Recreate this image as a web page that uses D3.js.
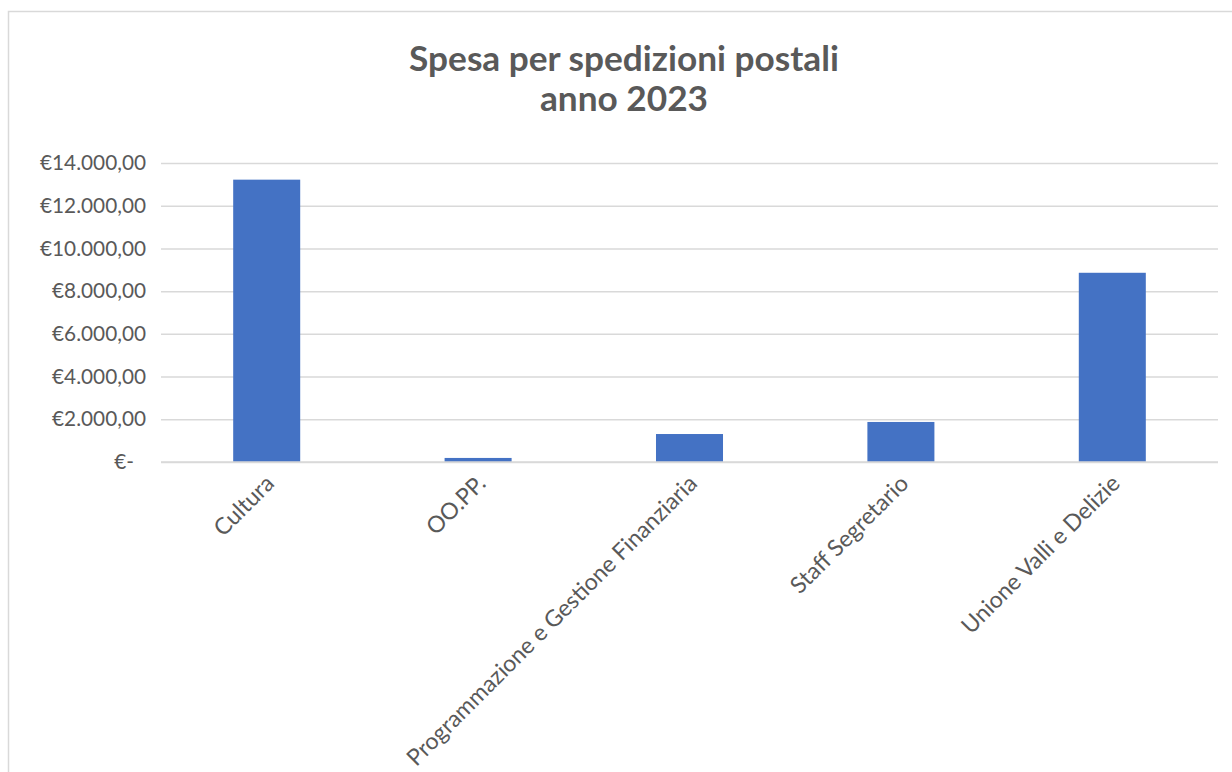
<!DOCTYPE html>
<html>
<head>
<meta charset="utf-8">
<script src="https://cdn.jsdelivr.net/npm/d3@7"></script>
<style>
  html, body { margin: 0; padding: 0; background: #fff; }
  svg { display: block; }
</style>
</head>
<body>
<svg id="chart" width="1232" height="772"></svg>
<script>
const categories = ["Cultura", "OO.PP.", "Programmazione e Gestione Finanziaria", "Staff Segretario", "Unione Valli e Delizie"];
const values = [13220, 190, 1310, 1875, 8860];
const yTicks = [0, 2000, 4000, 6000, 8000, 10000, 12000, 14000];
const titleLines = ["Spesa per spedizioni postali", "anno 2023"];

const FONT = "Lato, 'Open Sans', sans-serif";
const TEXT = "#595959";
const GRID = "#d9d9d9";
const BAR = "#4472c4";

const svg = d3.select("#chart");
const plotLeft = 161, plotRight = 1218, plotTop = 163, plotBottom = 462;

// chart border (clipped by page on right and bottom as in reference)
svg.append("rect")
  .attr("x", 8.5).attr("y", 11.5)
  .attr("width", 1300).attr("height", 900)
  .attr("fill", "#fff").attr("stroke", GRID).attr("stroke-width", 1.5);

const x = d3.scaleBand().domain(categories).range([plotLeft, plotRight])
  .paddingInner(0.683).paddingOuter(0.683 / 2);
const y = d3.scaleLinear().domain([0, 14000]).range([plotBottom, plotTop]);

const itLocale = d3.formatLocale({ decimal: ",", thousands: ".", grouping: [3], currency: ["€", ""] });
const money = itLocale.format("$,.2f");
const fmt = d => d === 0 ? "€-" : money(d);

// helper to fit font size to a target width
function fitSize(text, weight, targetWidth) {
  const t = svg.append("text").attr("font-family", FONT).attr("font-weight", weight)
    .attr("font-size", 100).text(text);
  const w = t.node().getComputedTextLength();
  t.remove();
  return 100 * targetWidth / w;
}
const axisSize = fitSize("€14.000,00", "normal", 106);
const catSize = axisSize * 1.11;
const titleSize = fitSize(titleLines[0], "bold", 430);

// y axis with gridlines
const yAxis = svg.append("g")
  .attr("transform", `translate(${plotLeft},0)`)
  .call(d3.axisLeft(y).tickValues(yTicks).tickFormat(fmt)
    .tickSize(-(plotRight - plotLeft)).tickPadding(15));
yAxis.select(".domain").remove();
yAxis.selectAll(".tick line").attr("stroke", GRID).attr("stroke-width", 1.5);
yAxis.selectAll(".tick text")
  .attr("fill", TEXT).attr("font-family", FONT).attr("font-size", axisSize)
  .attr("dx", d => d === 0 ? -12 : 0);

// bars
svg.append("g").selectAll("rect").data(categories).join("rect")
  .attr("x", d => x(d))
  .attr("width", x.bandwidth())
  .attr("y", (d, i) => y(values[i]))
  .attr("height", (d, i) => y(0) - y(values[i]))
  .attr("fill", BAR);

// redraw baseline over bars
svg.append("line").attr("x1", plotLeft).attr("x2", plotRight)
  .attr("y1", y(0)).attr("y2", y(0)).attr("stroke", GRID).attr("stroke-width", 1.5);

// x axis category labels rotated
const xAxis = svg.append("g")
  .attr("transform", `translate(0,${plotBottom})`)
  .call(d3.axisBottom(x).tickSize(0).tickPadding(0));
xAxis.select(".domain").remove();
xAxis.selectAll(".tick text")
  .attr("fill", TEXT).attr("font-family", FONT).attr("font-size", catSize)
  .attr("text-anchor", "end")
  .attr("dy", null).attr("y", null)
  .attr("transform", "translate(9,23) rotate(-45)");

// title
const title = svg.append("text")
  .attr("x", 624).attr("y", 71)
  .attr("text-anchor", "middle")
  .attr("font-family", FONT).attr("font-weight", "bold").attr("font-size", titleSize)
  .attr("fill", TEXT);
title.selectAll("tspan").data(titleLines).join("tspan")
  .attr("x", 624).attr("dy", (d, i) => i === 0 ? 0 : 40)
  .text(d => d);
</script>
</body>
</html>
